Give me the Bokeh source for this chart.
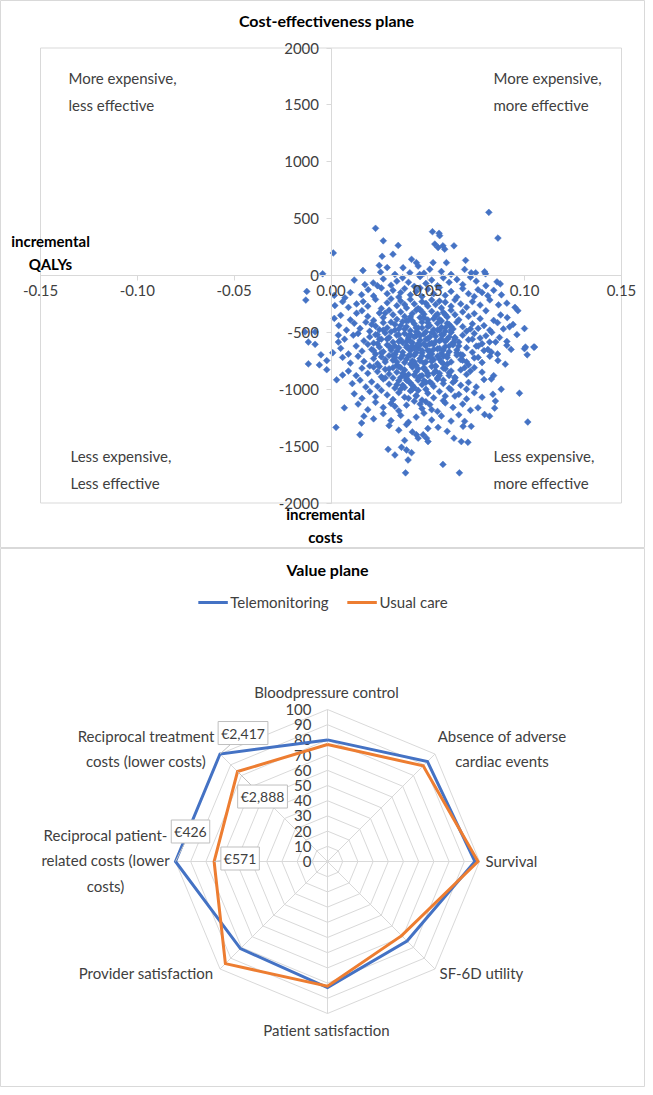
import numpy as np
from bokeh.plotting import figure
from bokeh.layouts import column
from bokeh.models import (Label, FixedTicker, NumeralTickFormatter, Legend, LegendItem,
                          Range1d)
from bokeh.embed import file_html
from bokeh.resources import INLINE
from bokeh.core.properties import value

FONT = "Lato"
BLUE = "#4472C4"
ORANGE = "#ED7D31"
GRID = "#D9D9D9"
TXT = "#404040"

# ---------------- data: cost-effectiveness plane (bootstrap pairs)
ce_points = [
    (0.0815, 555), (0.023, 415), (0.0524, 385), (0.0558, 371), (0.0561, 350), (0.0862, 329), (0.027, 305),
    (0.0347, 264), (0.0536, 276), (0.0553, 246), (0.0578, 261), (0.0587, 231), (0.0635, 261),
    (0.0012, 198), (0.0264, 169), (0.032, 187), (0.0527, 113), (0.0596, 113), (0.0695, 133), (0.0416, 142),
    (0.0441, 113), (0.045, 83), (0.0372, 68), (0.0407, 24), (0.0458, 9),
    (0.0249, 89), (0.0165, 44), (0.0256, 29), (-0.0043, 15), (0.069, 53), (0.0724, 24), (0.0747, 24),
    (0.0793, 33), (0.0798, 15), (0.048, 20), (0.051, 55), (0.057, 35), (0.062, 10), (0.033, 10), (0.029, 70),
    (0.0175, -80), (0.0218, -65), (0.0857, -56), (0.0874, -74), (0.012, -40), (0.027, -30), (0.031, -85),
    (0.037, -20), (0.040, -60), (0.043, -95), (0.046, -10), (0.049, -70), (0.052, -40), (0.055, -90),
    (0.058, -20), (0.061, -60), (0.065, -35), (0.068, -80), (0.072, -15), (0.075, -50), (0.080, -90),
    (0.034, -50), (0.024, -90),
    (-0.0125, -140), (0.0017, -175), (0.0072, -196), (0.0192, -125), (0.0158, -169), (0.081, -178),
    (0.0759, -125), (0.010, -150), (0.022, -180), (0.026, -110), (0.029, -160), (0.032, -130), (0.035, -190),
    (0.038, -115), (0.041, -170), (0.044, -140), (0.047, -185), (0.050, -120), (0.053, -160), (0.056, -105),
    (0.059, -175), (0.062, -140), (0.065, -190), (0.068, -115), (0.071, -160), (0.074, -185), (0.078, -150),
    (0.084, -130), (0.088, -170), (0.036, -150), (0.046, -110),
    (-0.013, -216), (0.002, -264), (0.0166, -229), (0.0908, -243), (0.0865, -258), (0.0132, -250),
    (0.006, -230), (0.009, -280), (0.019, -270), (0.023, -210), (0.026, -290), (0.029, -240), (0.031, -205),
    (0.034, -265), (0.036, -225), (0.039, -285), (0.041, -210), (0.043, -250), (0.045, -290), (0.047, -230),
    (0.050, -270), (0.052, -215), (0.054, -255), (0.057, -285), (0.059, -235), (0.062, -270), (0.064, -215),
    (0.067, -250), (0.070, -280), (0.073, -230), (0.077, -260), (0.082, -215), (0.095, -280), (0.038, -255),
    (0.049, -245), (0.056, -225),
    (0.0132, -332), (0.0965, -309), (0.0876, -347), (0.0017, -377), (0.005, -350), (0.010, -390),
    (0.016, -310), (0.019, -360), (0.022, -395), (0.025, -330), (0.027, -370), (0.030, -305), (0.032, -345),
    (0.034, -385), (0.036, -320), (0.038, -360), (0.040, -395), (0.042, -335), (0.044, -305), (0.046, -370),
    (0.048, -340), (0.050, -390), (0.052, -315), (0.054, -355), (0.056, -385), (0.058, -325), (0.060, -365),
    (0.062, -305), (0.064, -345), (0.066, -390), (0.068, -320), (0.071, -360), (0.074, -335), (0.077, -380),
    (0.080, -310), (0.084, -395), (0.091, -370), (0.041, -365), (0.047, -320), (0.053, -380), (0.059, -345),
    (-0.0134, -496), (-0.0082, -496), (0.0922, -451), (0.0999, -466), (0.004, -440), (0.008, -480),
    (0.012, -420), (0.015, -465), (0.018, -410), (0.020, -490), (0.023, -445), (0.025, -475), (0.027, -415),
    (0.029, -460), (0.031, -495), (0.033, -430), (0.035, -470), (0.037, -405), (0.039, -450), (0.041, -485),
    (0.043, -425), (0.045, -460), (0.047, -410), (0.049, -495), (0.051, -440), (0.053, -475), (0.055, -420),
    (0.057, -455), (0.059, -490), (0.061, -430), (0.063, -470), (0.065, -410), (0.068, -450), (0.070, -490),
    (0.073, -425), (0.076, -465), (0.079, -440), (0.082, -480), (0.086, -415), (0.089, -470), (0.094, -430),
    (0.036, -440), (0.044, -495), (0.050, -415), (0.056, -480), (0.062, -450),
    (0.0038, -525), (0.0038, -585), (0.0115, -525), (-0.0117, -585), (-0.0082, -605), (0.0819, -585),
    (0.085, -585), (0.0908, -580), (0.007, -560), (0.014, -510), (0.017, -575), (0.020, -540), (0.022, -595),
    (0.024, -520), (0.026, -560), (0.028, -505), (0.030, -545), (0.032, -585), (0.034, -525), (0.036, -565),
    (0.038, -510), (0.040, -550), (0.042, -590), (0.044, -530), (0.046, -570), (0.048, -515), (0.050, -555),
    (0.052, -595), (0.054, -535), (0.056, -575), (0.058, -520), (0.060, -560), (0.062, -500), (0.064, -545),
    (0.066, -585), (0.068, -525), (0.071, -565), (0.074, -510), (0.077, -550), (0.080, -530), (0.087, -545),
    (0.096, -520), (0.039, -580), (0.045, -505), (0.051, -540), (0.057, -560), (0.063, -590), (0.041, -520),
    (0.053, -510),
    (0.1004, -629), (0.1047, -629), (0.0908, -614), (0.0999, -643), (0.1013, -697), (0.1051, -629),
    (0.093, -650), (-0.0052, -697), (0.0009, -679), (0.0828, -674), (0.005, -640), (0.009, -690),
    (0.013, -620), (0.016, -665), (0.019, -605), (0.021, -650), (0.023, -690), (0.025, -630), (0.027, -670),
    (0.029, -610), (0.031, -655), (0.033, -695), (0.035, -635), (0.037, -675), (0.039, -615), (0.041, -660),
    (0.043, -700), (0.045, -640), (0.047, -680), (0.049, -620), (0.051, -665), (0.053, -605), (0.055, -645),
    (0.057, -685), (0.059, -625), (0.061, -670), (0.063, -610), (0.065, -655), (0.067, -695), (0.070, -635),
    (0.073, -675), (0.076, -620), (0.079, -660), (0.086, -690), (0.040, -640), (0.046, -610), (0.052, -690),
    (0.058, -655), (0.034, -665), (0.044, -625),
    (-0.0117, -777), (-0.006, -786), (-0.0022, -748), (0.0862, -748), (0.006, -720), (0.010, -770),
    (0.014, -710), (0.017, -755), (0.020, -795), (0.022, -730), (0.024, -775), (0.026, -715), (0.028, -760),
    (0.030, -705), (0.032, -745), (0.034, -790), (0.036, -725), (0.038, -765), (0.040, -705), (0.042, -750),
    (0.044, -790), (0.046, -730), (0.048, -770), (0.050, -715), (0.052, -755), (0.054, -795), (0.056, -735),
    (0.058, -775), (0.060, -720), (0.062, -760), (0.065, -700), (0.068, -745), (0.071, -785), (0.074, -725),
    (0.078, -765), (0.082, -710), (0.090, -780), (0.041, -780), (0.047, -705), (0.053, -740), (0.039, -735),
    (-0.0022, -828), (0.006, -875), (0.009, -840), (0.013, -880), (0.016, -815), (0.019, -860), (0.022, -805),
    (0.024, -845), (0.026, -890), (0.028, -825), (0.030, -865), (0.032, -810), (0.034, -850), (0.036, -895),
    (0.038, -830), (0.040, -870), (0.042, -805), (0.044, -845), (0.046, -885), (0.048, -820), (0.050, -860),
    (0.052, -800), (0.054, -840), (0.056, -880), (0.058, -815), (0.061, -855), (0.064, -895), (0.067, -830),
    (0.070, -870), (0.074, -810), (0.078, -850), (0.084, -880), (0.043, -875), (0.049, -835), (0.055, -900),
    (0.0029, -917), (0.0828, -910), (0.0879, -1000), (0.011, -950), (0.015, -920), (0.018, -980),
    (0.021, -935), (0.024, -975), (0.027, -910), (0.030, -955), (0.033, -990), (0.035, -925), (0.037, -965),
    (0.039, -905), (0.041, -945), (0.043, -985), (0.045, -920), (0.047, -960), (0.049, -1000), (0.051, -935),
    (0.053, -975), (0.055, -910), (0.058, -950), (0.061, -990), (0.064, -925), (0.067, -965), (0.071, -940),
    (0.075, -980), (0.079, -915), (0.042, -965), (0.048, -925), (0.038, -985),
    (0.0973, -1035), (0.0836, -1044), (0.0849, -1104), (0.012, -1040), (0.016, -1080), (0.020, -1020),
    (0.023, -1065), (0.026, -1010), (0.029, -1050), (0.032, -1090), (0.035, -1030), (0.038, -1070),
    (0.041, -1015), (0.044, -1055), (0.047, -1095), (0.050, -1035), (0.053, -1075), (0.056, -1020),
    (0.059, -1060), (0.062, -1005), (0.066, -1045), (0.070, -1085), (0.074, -1030), (0.078, -1070),
    (0.045, -1010),
    (0.0069, -1163), (0.0845, -1166), (0.0759, -1163), (0.014, -1130), (0.019, -1180), (0.023, -1115),
    (0.027, -1160), (0.031, -1125), (0.035, -1190), (0.039, -1140), (0.043, -1105), (0.047, -1170),
    (0.051, -1135), (0.055, -1195), (0.059, -1120), (0.063, -1160), (0.068, -1130), (0.072, -1185),
    (0.033, -1150), (0.049, -1110),
    (0.0158, -1297), (0.017, -1237), (0.0819, -1237), (0.0793, -1222), (0.069, -1282), (0.1016, -1288),
    (0.022, -1260), (0.027, -1215), (0.031, -1275), (0.036, -1230), (0.040, -1290), (0.044, -1245),
    (0.048, -1210), (0.052, -1270), (0.057, -1235), (0.062, -1280), (0.066, -1225),
    (0.0026, -1335), (0.0149, -1400), (0.0441, -1400), (0.0476, -1400), (0.0553, -1335), (0.0682, -1326),
    (0.0724, -1326), (0.030, -1320), (0.035, -1360), (0.039, -1310), (0.042, -1375), (0.050, -1345),
    (0.060, -1370),
    (0.0493, -1430), (0.0501, -1460), (0.045, -1430), (0.0635, -1430), (0.0673, -1460), (0.0707, -1466),
    (0.038, -1450),
    (0.0295, -1528), (0.033, -1578), (0.0364, -1510), (0.0398, -1622), (0.0416, -1558), (0.039, -1534),
    (0.0578, -1661), (0.0385, -1735), (0.0663, -1735),
    # denser core of the cloud
    (0.028, -330), (0.031, -410), (0.033, -480), (0.035, -520), (0.037, -590), (0.039, -630), (0.041, -700),
    (0.043, -760), (0.045, -820), (0.047, -880), (0.049, -940), (0.030, -620), (0.032, -700), (0.034, -760),
    (0.036, -810), (0.038, -880), (0.040, -930), (0.042, -1000), (0.044, -1060), (0.046, -300), (0.048, -370),
    (0.050, -450), (0.052, -500), (0.054, -580), (0.056, -640), (0.058, -710), (0.060, -780), (0.062, -840),
    (0.064, -900), (0.051, -600), (0.053, -650), (0.055, -710), (0.057, -760), (0.059, -820), (0.061, -880),
    (0.063, -940), (0.027, -480), (0.029, -560), (0.031, -640), (0.033, -720), (0.035, -800), (0.037, -860),
    (0.039, -920), (0.042, -400), (0.044, -460), (0.046, -530), (0.048, -600), (0.050, -660), (0.052, -730),
    (0.054, -800), (0.056, -860), (0.058, -920), (0.060, -420), (0.062, -480), (0.064, -560), (0.066, -620),
    (0.068, -700), (0.070, -760), (0.072, -840), (0.024, -600), (0.026, -680), (0.028, -740), (0.030, -820),
    (0.032, -900), (0.034, -960), (0.038, -470), (0.040, -530), (0.042, -620), (0.044, -680), (0.046, -750),
    (0.048, -810), (0.050, -880), (0.052, -950), (0.055, -340), (0.057, -400), (0.059, -460), (0.061, -540),
    (0.063, -600), (0.065, -680), (0.067, -740), (0.069, -810), (0.036, -1000), (0.040, -1080), (0.046, -1130),
    (0.052, -1180), (0.058, -1100), (0.064, -1060), (0.070, -1000), (0.021, -430), (0.023, -520),
    (0.025, -560), (0.022, -660), (0.025, -800), (0.028, -900), (0.073, -560), (0.075, -620), (0.072, -470),
    (0.076, -720), (0.078, -600), (0.081, -650), (0.083, -500), (0.043, -540), (0.047, -460), (0.049, -560),
    (0.045, -600), (0.047, -660), (0.051, -700), (0.049, -760), (0.053, -860), (0.045, -900), (0.039, -400),
    (0.041, -580), (0.043, -640), (0.037, -700), (0.035, -580), (0.033, -620), (0.055, -480), (0.057, -520),
    (0.059, -580), (0.061, -620), (0.060, -700),
]
incr_qalys = [pt[0] for pt in ce_points]
incr_costs = [pt[1] for pt in ce_points]

x_ticks = [-0.15, -0.10, -0.05, 0.0, 0.05, 0.10, 0.15]
y_ticks = [-2000, -1500, -1000, -500, 0, 500, 1000, 1500, 2000]
ce_title = "Cost-effectiveness plane"
quadrant_labels = ["More expensive,\nless effective", "More expensive,\nmore effective",
                   "Less expensive,\nLess effective", "Less expensive,\nmore effective"]

# ---------------- data: value plane (radar)
radar_categories = ["Bloodpressure control", "Absence of adverse\ncardiac events", "Survival",
                    "SF-6D utility", "Patient satisfaction", "Provider satisfaction",
                    "Reciprocal patient-\nrelated costs (lower\ncosts)",
                    "Reciprocal treatment\ncosts (lower costs)"]
telemonitoring = [80, 93, 97, 74, 83, 81, 100, 100]
usual_care = [77, 89, 99, 69, 82, 95, 74.6, 83.7]
radar_levels = [0, 10, 20, 30, 40, 50, 60, 70, 80, 90, 100]
cost_index = [6, 7]
tm_cost_labels = ["€426", "€2,417"]
uc_cost_labels = ["€571", "€2,888"]

# ================= top figure: cost-effectiveness plane
W, H1, H2 = 645, 548, 539
# pixel positions of the axis extremes inside the figure (layout)
PX_L, PX_R, PY_T, PY_B = 40.0, 621.0, 47.5, 502.5
xs_per_px = (x_ticks[-1] - x_ticks[0]) / (PX_R - PX_L)
ys_per_px = (y_ticks[-1] - y_ticks[0]) / (PY_B - PY_T)
xr = Range1d(x_ticks[0] - PX_L * xs_per_px, x_ticks[-1] + (W - PX_R) * xs_per_px)
yr = Range1d(y_ticks[0] - (H1 - PY_B) * ys_per_px, y_ticks[-1] + PY_T * ys_per_px)

p1 = figure(width=W, height=H1, x_range=xr, y_range=yr,
            output_backend="svg", toolbar_location=None, min_border=0)
p1.xgrid.visible = False
p1.ygrid.visible = False
p1.outline_line_color = GRID
p1.background_fill_color = "white"

# plot-area box spanning the axis ranges
p1.quad(left=[x_ticks[0]], right=[x_ticks[-1]], bottom=[y_ticks[0]], top=[y_ticks[-1]],
        fill_color=None, line_color=GRID, line_width=1)

for ax in (p1.xaxis[0], p1.yaxis[0]):
    ax.fixed_location = 0
    ax.axis_line_color = GRID
    ax.major_tick_line_color = GRID
    ax.minor_tick_line_color = None
    ax.major_tick_in = 0
    ax.major_tick_out = 5
    ax.major_label_text_font = FONT
    ax.major_label_text_font_size = "15px"
    ax.major_label_text_color = TXT
p1.xaxis.ticker = FixedTicker(ticks=x_ticks)
p1.xaxis.formatter = NumeralTickFormatter(format="0.00")
p1.xaxis.bounds = (x_ticks[0], x_ticks[-1])
p1.xaxis.major_label_standoff = 4
p1.yaxis.ticker = FixedTicker(ticks=y_ticks)
p1.yaxis.formatter = NumeralTickFormatter(format="0")
p1.yaxis.bounds = (y_ticks[0], y_ticks[-1])
p1.yaxis.major_label_standoff = 7

p1.scatter(incr_qalys, incr_costs, marker="square", angle=np.pi / 4, size=4.8,
           fill_color=BLUE, line_color=BLUE, line_width=0.5)


def X(px):
    return xr.start + px * xs_per_px


def Y(py):
    return yr.end - py * ys_per_px


def lab(fig, x, y, text, align="left", bold=False, size="15px", color=TXT, lh=1.4):
    fig.add_layout(Label(x=x, y=y, text=text, text_align=align, text_baseline="middle",
                         text_font=FONT, text_font_size=size, text_color=color,
                         text_font_style="bold" if bold else "normal", text_line_height=lh))


lab(p1, X(326), Y(20), ce_title, align="center", bold=True, size="16px", color="#000000")
quad_pos = [(68, 91), (493, 91), (70, 469), (493, 469)]
for (qx, qy), t in zip(quad_pos, quadrant_labels):
    lab(p1, X(qx), Y(qy), t, lh=1.45)
lab(p1, X(50), Y(252), "incremental\nQALYs", align="center", bold=True, color="#000000", lh=1.3)
lab(p1, X(325), Y(525), "incremental\ncosts", align="center", bold=True, color="#000000", lh=1.3)

# ================= bottom figure: value plane (radar)
S = 1.52           # pixels per radar unit
CX, CY = 327, 313  # radar centre in figure pixels
p2 = figure(width=W, height=H2, x_range=Range1d(-CX / S, (W - CX) / S),
            y_range=Range1d(-(H2 - CY) / S, CY / S),
            output_backend="svg", toolbar_location=None, min_border=0)
p2.xaxis.visible = False
p2.yaxis.visible = False
p2.xgrid.visible = False
p2.ygrid.visible = False
p2.outline_line_color = GRID

n = len(radar_categories)
ang = np.pi / 2 - np.arange(n) * 2 * np.pi / n
cosa, sina = np.cos(ang), np.sin(ang)

ring_xs = [list(lv * cosa) + [lv * cosa[0]] for lv in radar_levels[1:]]
ring_ys = [list(lv * sina) + [lv * sina[0]] for lv in radar_levels[1:]]
p2.multi_line(ring_xs, ring_ys, line_color=GRID, line_width=1)
top = radar_levels[-1]
p2.segment(x0=[0] * n, y0=[0] * n, x1=list(top * cosa), y1=list(top * sina), line_color=GRID, line_width=1)

p2.text(x=[0] * len(radar_levels), y=radar_levels, text=[str(v) for v in radar_levels],
        x_offset=-16, text_align="right", text_baseline="middle",
        text_font=value(FONT), text_font_size="15px", text_color=TXT)


def closed(vals):
    v = np.array(vals, dtype=float)
    xs = list(v * cosa) + [v[0] * cosa[0]]
    ys = list(v * sina) + [v[0] * sina[0]]
    return xs, ys


tx, ty = closed(telemonitoring)
ux, uy = closed(usual_care)
r_tm = p2.line(tx, ty, line_color=BLUE, line_width=3, line_join="miter")
r_uc = p2.line(ux, uy, line_color=ORANGE, line_width=3, line_join="miter")

# category labels (pixel offsets relative to radar centre: layout only)
cat_pos = [(-1, 170, "center"), (174.5, 113, "center"), (158, 1, "left"), (112, -111, "left"),
           (-1, -168, "center"), (-114, -111, "right"), (-222, 1, "center"), (-181.5, 113, "center")]
for (dx, dy, al), t in zip(cat_pos, radar_categories):
    lab(p2, dx / S, dy / S, t, align=al)

# data-label callouts for the cost axes
callout_off = {("tm", 6): (15, -30), ("tm", 7): (23, -21), ("uc", 6): (26, -3), ("uc", 7): (25, 25)}
for key, vals, labels in (("tm", telemonitoring, tm_cost_labels), ("uc", usual_care, uc_cost_labels)):
    vx = [vals[i] * cosa[i] for i in cost_index]
    vy = [vals[i] * sina[i] for i in cost_index]
    ox = [callout_off[(key, i)][0] for i in cost_index]
    oy = [callout_off[(key, i)][1] for i in cost_index]
    p2.segment(x0=vx, y0=vy, x1=[a + b / S * 0.8 for a, b in zip(vx, ox)],
               y1=[a - b / S * 0.8 for a, b in zip(vy, oy)], line_color="#BFBFBF", line_width=1)
    p2.text(x=vx, y=vy, text=labels, x_offset=ox, y_offset=oy, text_align="center",
            text_baseline="middle", text_font=value(FONT), text_font_size="14px", text_color=TXT,
            background_fill_color="white", border_line_color="#BFBFBF", padding=3)

lab(p2, 0, (CY - 21) / S, "Value plane", align="center", bold=True, size="16px", color="#000000")

legend = Legend(items=[LegendItem(label="Telemonitoring", renderers=[r_tm]),
                       LegendItem(label="Usual care", renderers=[r_uc])],
                location="top_center", orientation="horizontal", border_line_color=None,
                background_fill_alpha=0, label_text_font=FONT, label_text_font_size="15px",
                label_text_color=TXT, glyph_width=30, glyph_height=20, label_standoff=3,
                spacing=18, padding=0, margin=44)
p2.add_layout(legend)

layout = column(p1, p2, spacing=0)
open("out.html", "w").write(file_html(layout, INLINE))
